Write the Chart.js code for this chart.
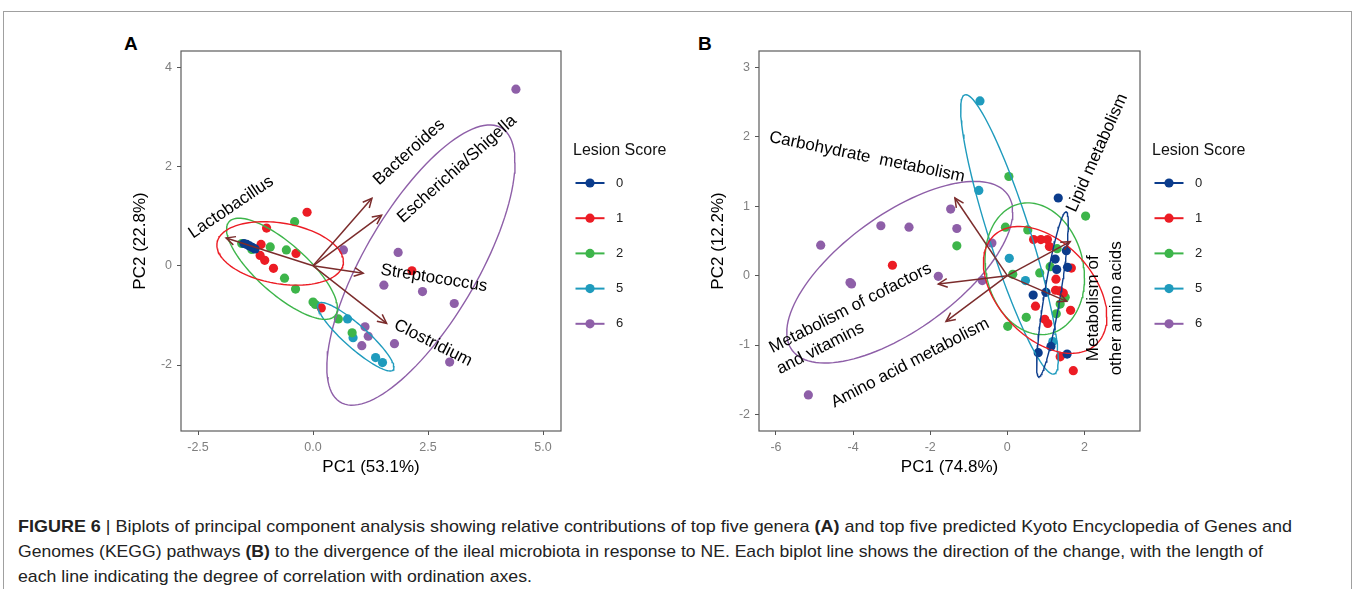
<!DOCTYPE html>
<html>
<head>
<meta charset="utf-8">
<script src="https://cdn.jsdelivr.net/npm/chart.js@4.4.0/dist/chart.umd.min.js"></script>
<style>
html, body { margin: 0; padding: 0; background: #fff; }
body { width: 1355px; height: 589px; position: relative; overflow: hidden; font-family: 'Liberation Sans', Arial, sans-serif; }
#frame { position: absolute; left: 3px; top: 11px; width: 1347px; height: 620px; border: 1px solid #a0a0a0; }
.panel { position: absolute; }
.tag { position: absolute; font-weight: bold; font-size: 19px; line-height: 20px; color: #000; }
#caption { position: absolute; left: 18px; top: 514px; font-family: 'Liberation Sans', Arial, sans-serif; font-size: 17px; line-height: 25px; color: #222; white-space: nowrap; }
#caption .cl { display: block; width: max-content; transform-origin: 0 0; }
</style>
</head>
<body>
<div id="frame"></div>
<div class="tag" style="left:124px;top:34px">A</div>
<div class="tag" style="left:698px;top:34px">B</div>
<div class="panel" style="left:100px;top:30px;width:580px;height:460px"><canvas id="chartA" width="580" height="460"></canvas></div>
<div class="panel" style="left:680px;top:30px;width:600px;height:460px"><canvas id="chartB" width="600" height="460"></canvas></div>
<div id="caption">
<div class="cl" data-w="1274"><b>FIGURE 6</b> | Biplots of principal component analysis showing relative contributions of top five genera <b>(A)</b> and top five predicted Kyoto Encyclopedia of Genes and</div>
<div class="cl" data-w="1245">Genomes (KEGG) pathways <b>(B)</b> to the divergence of the ileal microbiota in response to NE. Each biplot line shows the direction of the change, with the length of</div>
<div class="cl" data-w="514">each line indicating the degree of correlation with ordination axes.</div>
</div>
<script>
// ---- shared ----
const groups = ['0', '1', '2', '5', '6'];
const groupColors = ['#0b3c8c', '#ec1c24', '#3db54a', '#1f9bbd', '#8e5fa8'];
const arrowColor = '#7b2c2c';
const FONT = "'Liberation Sans', Arial, sans-serif";

// ---- panel A: genera ----
const aScore0 = [[-1.50,0.45],[-1.44,0.43],[-1.38,0.40],[-1.32,0.37],[-1.26,0.34]];
const aScore1 = [[-0.13,1.08],[-1.01,0.76],[-1.13,0.43],[-1.15,0.21],[-1.05,0.11],[-0.86,-0.05],[-0.37,0.25],[0.18,-0.85],[2.15,-0.10]];
const aScore2 = [[-0.40,0.89],[-0.93,0.38],[-0.58,0.32],[-0.62,-0.25],[-0.38,-0.47],[0.00,-0.73],[0.05,-0.78],[0.55,-1.07],[0.85,-1.35],[-1.55,0.45],[-1.33,0.33]];
const aScore5 = [[0.75,-1.07],[0.87,-1.45],[1.36,-1.85],[1.51,-1.95]];
const aScore6 = [[4.41,3.56],[0.66,0.32],[1.85,0.27],[1.54,-0.39],[2.38,-0.52],[3.07,-0.76],[1.13,-1.23],[1.20,-1.42],[1.06,-1.61],[1.77,-1.57],[2.97,-1.94]];
// ellipse: [centre x, half-width x, centre y, half-height y, phase deg]
const aEllipses = [null, [-0.715,1.375,0.25,0.64,105], [-0.675,1.205,-0.06,1.02,141], [0.93,0.83,-1.43,0.69,154], [2.345,2.045,0.015,2.825,43]];
const aVarNames = ['Lactobacillus', 'Bacteroides', 'Escherichia/Shigella', 'Streptococcus', 'Clostridium'];
const aVarTips = [[-1.89,0.56],[1.28,1.36],[1.49,1.02],[1.09,-0.15],[1.60,-1.16]];
const aVarLabelPos = [[-1.78,1.18,-34],[2.09,2.29,-42],[3.13,1.95,-41.6],[2.63,-0.25,9],[2.61,-1.56,26.6]];
const aXTicks = [-2.5, 0, 2.5, 5];
const aXTickLabels = ['-2.5', '0.0', '2.5', '5.0'];
const aYTicks = [-2, 0, 2, 4];
const aYTickLabels = ['-2', '0', '2', '4'];

// ---- panel B: KEGG pathways ----
const bScore0 = [[1.32,1.12],[1.53,0.36],[1.24,0.24],[1.28,0.09],[1.56,0.12],[1.00,-0.24],[0.67,-0.28],[1.13,-1.02],[0.80,-1.11],[1.55,-1.13]];
const bScore1 = [[-2.98,0.15],[0.68,0.52],[0.87,0.52],[1.04,0.52],[1.09,0.42],[1.66,0.11],[1.26,-0.05],[1.25,-0.21],[1.36,-0.22],[1.45,-0.25],[0.73,-0.44],[1.64,-0.50],[0.97,-0.63],[1.05,-0.69],[1.37,-1.17],[1.71,-1.37]];
const bScore2 = [[0.04,1.43],[2.03,0.86],[-1.31,0.43],[-0.05,0.70],[0.53,0.66],[0.14,0.02],[0.84,0.04],[1.11,0.13],[1.29,0.39],[0.49,-0.60],[0.01,-0.73],[1.27,-0.55],[1.37,-0.41],[1.50,-0.31]];
const bScore5 = [[-0.71,2.52],[-0.74,1.23],[0.05,0.25],[0.47,-0.07],[1.18,-0.95]];
const bScore6 = [[-4.84,0.44],[-3.28,0.72],[-2.55,0.70],[-1.47,0.96],[-1.31,0.68],[-4.08,-0.10],[-4.04,-0.12],[-1.79,-0.01],[-0.65,-0.07],[-5.16,-1.72],[-0.40,0.47]];
const bEllipses = [[1.17,0.41,-0.27,1.19,31], [0.98,1.60,-0.205,0.915,115], [0.71,1.29,0.10,0.95,98], [0.055,1.265,0.595,2.015,153.6], [-2.79,2.93,0.05,1.31,48.5]];
const bVarNames = ['Carbohydrate  metabolism', 'Lipid metabolism', 'Metabolism of cofactors', 'and vitamins', 'Amino acid metabolism', 'Metabolism of', 'other amino acids'];
const bVarTips = [[-1.36,1.12],[1.63,0.49],[-1.79,-0.12],[-1.59,-0.66],[1.54,-0.37]];
const bVarLabelPos = [[-3.64,1.71,11.6],[2.33,1.77,-66],[-4.07,-0.47,-27],[-4.85,-1.05,-27],[-2.52,-1.26,-27.5],[2.23,-0.47,-90],[2.83,-0.47,-90]];
const bXTicks = [-6, -4, -2, 0, 2];
const bXTickLabels = ['-6', '-4', '-2', '0', '2'];
const bYTicks = [-2, -1, 0, 1, 2, 3];
const bYTickLabels = ['-2', '-1', '0', '1', '2', '3'];

function ellipsePoints(e) {
  const pts = [];
  for (let i = 0; i <= 120; i++) {
    const t = i / 120 * 2 * Math.PI;
    pts.push({ x: e[0] + e[1] * Math.cos(t), y: e[2] + e[3] * Math.cos(t - e[4] * Math.PI / 180) });
  }
  return pts;
}

function buildDatasets(scores, ellipses, tips) {
  const ds = [];
  // arrows first so they are drawn on top
  tips.forEach(t => ds.push({
    data: [{ x: 0, y: 0 }, { x: t[0], y: t[1] }], showLine: true, borderColor: arrowColor,
    borderWidth: 1.5, pointRadius: 0, fill: false
  }));
  ellipses.forEach((e, i) => {
    if (!e) return;
    ds.push({ data: ellipsePoints(e), showLine: true, borderColor: groupColors[i], borderWidth: 1.4,
      pointRadius: 0, fill: false, tension: 0 });
  });
  scores.forEach((s, i) => ds.push({
    data: s.map(p => ({ x: p[0], y: p[1] })), showLine: false, pointRadius: 4.6, pointHoverRadius: 4.6,
    backgroundColor: groupColors[i], borderColor: groupColors[i], borderWidth: 0
  }));
  return ds;
}

function axis(ticks, labels, min, max, fitFn) {
  return {
    type: 'linear', min: min, max: max,
    afterBuildTicks: s => { s.ticks = ticks.map(v => ({ value: v })); },
    afterFit: fitFn,
    ticks: { callback: (v, i) => labels[i], color: '#7f7f7f', font: { size: 12.5, family: FONT }, padding: 5, maxRotation: 0, autoSkip: false },
    grid: { display: true, drawOnChartArea: false, drawTicks: true, tickLength: 4, color: '#555', lineWidth: 1 },
    border: { display: false }
  };
}

const biplotPlugin = {
  id: 'biplot',
  afterDatasetsDraw(chart, args, opts) {
    const ctx = chart.ctx, a = chart.chartArea, xs = chart.scales.x, ys = chart.scales.y;
    ctx.save();
    ctx.strokeStyle = '#5c5c5c';
    ctx.lineWidth = 1.2;
    ctx.strokeRect(a.left, a.top, a.right - a.left, a.bottom - a.top);

    // arrow heads
    const x0 = xs.getPixelForValue(0), y0 = ys.getPixelForValue(0);
    ctx.strokeStyle = arrowColor;
    ctx.lineWidth = 1.5;
    opts.tips.forEach(t => {
      const x1 = xs.getPixelForValue(t[0]), y1 = ys.getPixelForValue(t[1]);
      const ang = Math.atan2(y1 - y0, x1 - x0);
      ctx.beginPath();
      ctx.moveTo(x1 - 10 * Math.cos(ang - 0.45), y1 - 10 * Math.sin(ang - 0.45));
      ctx.lineTo(x1, y1);
      ctx.lineTo(x1 - 10 * Math.cos(ang + 0.45), y1 - 10 * Math.sin(ang + 0.45));
      ctx.stroke();
    });

    // variable labels
    ctx.fillStyle = '#000';
    ctx.font = '17px ' + FONT;
    ctx.textAlign = 'center';
    ctx.textBaseline = 'middle';
    opts.names.forEach((n, i) => {
      const p = opts.labelPos[i];
      ctx.save();
      ctx.translate(xs.getPixelForValue(p[0]), ys.getPixelForValue(p[1]));
      ctx.rotate(p[2] * Math.PI / 180);
      ctx.fillText(n, 0, 0);
      ctx.restore();
    });

    // axis titles
    ctx.font = '17px ' + FONT;
    ctx.fillText(opts.xTitle, (a.left + a.right) / 2, a.bottom + 36);
    ctx.save();
    ctx.translate(a.left - 41, (a.top + a.bottom) / 2);
    ctx.rotate(-Math.PI / 2);
    ctx.fillText(opts.yTitle, 0, 0);
    ctx.restore();

    // legend
    const lx = a.right;
    ctx.textAlign = 'left';
    ctx.font = '16px ' + FONT;
    ctx.fillStyle = '#111';
    ctx.fillText('Lesion Score', lx + 12, a.top + 100);
    groups.forEach((g, i) => {
      const yy = a.top + 132 + i * 35.2;
      ctx.strokeStyle = groupColors[i];
      ctx.lineWidth = 2;
      ctx.beginPath();
      ctx.moveTo(lx + 14.5, yy);
      ctx.lineTo(lx + 43.5, yy);
      ctx.stroke();
      ctx.fillStyle = groupColors[i];
      ctx.beginPath();
      ctx.arc(lx + 29, yy, 4.6, 0, 2 * Math.PI);
      ctx.fill();
      ctx.fillStyle = '#222';
      ctx.font = '13px ' + FONT;
      ctx.fillText(g, lx + 55, yy);
    });
    ctx.restore();
  }
};

function makeChart(id, scores, ellipses, tips, names, labelPos, xr, yr, xT, xL, yT, yL, yWidth, rightPad, xTitle, yTitle) {
  return new Chart(document.getElementById(id), {
    type: 'scatter',
    data: { datasets: buildDatasets(scores, ellipses, tips) },
    options: {
      responsive: false,
      animation: false,
      events: [],
      layout: { padding: { left: 0, top: 21, right: rightPad, bottom: 0 } },
      scales: {
        x: axis(xT, xL, xr[0], xr[1], s => { s.height = 59; }),
        y: axis(yT, yL, yr[0], yr[1], s => { s.width = yWidth; })
      },
      plugins: {
        legend: { display: false },
        tooltip: { enabled: false },
        biplot: { tips: tips, names: names, labelPos: labelPos, xTitle: xTitle, yTitle: yTitle }
      }
    },
    plugins: [biplotPlugin]
  });
}

makeChart('chartA', [aScore0, aScore1, aScore2, aScore5, aScore6], aEllipses, aVarTips, aVarNames, aVarLabelPos,
  [-2.87, 5.39], [-3.33, 4.33], aXTicks, aXTickLabels, aYTicks, aYTickLabels, 81, 119, 'PC1 (53.1%)', 'PC2 (22.8%)');
makeChart('chartB', [bScore0, bScore1, bScore2, bScore5, bScore6], bEllipses, bVarTips, bVarNames, bVarLabelPos,
  [-6.44, 3.44], [-2.24, 3.24], bXTicks, bXTickLabels, bYTicks, bYTickLabels, 79, 140, 'PC1 (74.8%)', 'PC2 (12.2%)');

// squeeze each caption line horizontally to mimic the condensed journal face
document.querySelectorAll('#caption .cl').forEach(el => {
  const w = el.getBoundingClientRect().width;
  el.style.transform = 'scaleX(' + (Number(el.dataset.w) / w).toFixed(4) + ')';
});
</script>
</body>
</html>
